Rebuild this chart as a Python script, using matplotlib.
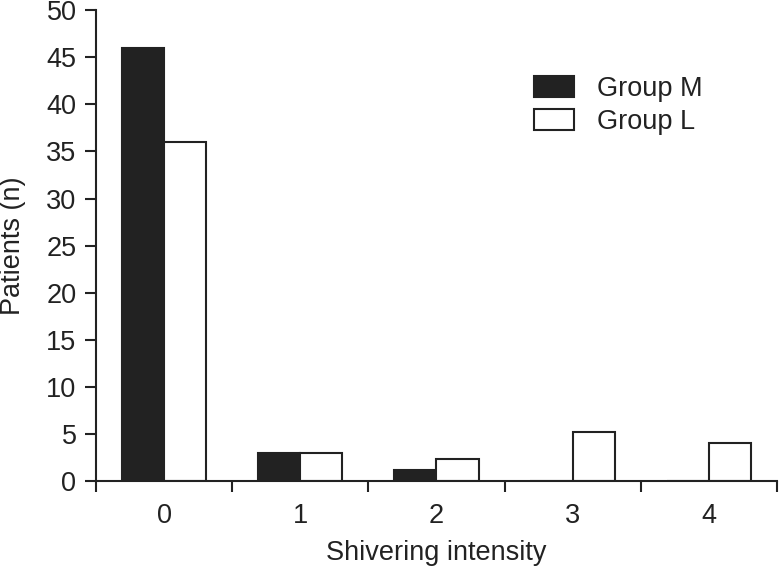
import numpy as np
import matplotlib
matplotlib.use('Agg')
import matplotlib.pyplot as plt
from matplotlib.patches import Patch

categories = ['0', '1', '2', '3', '4']
group_m = [46, 3, 1.2, 0, 0]
group_l = [36, 3, 2.3, 5.2, 4]

plt.rcParams['font.family'] = ['Liberation Sans', 'DejaVu Sans']
dark = '#222222'
fs = 19.5

fig = plt.figure(figsize=(7.8, 5.68), dpi=100)
ax = fig.add_axes([0.123, 0.153, 0.873, 0.829])

x = np.arange(len(categories))
w = 0.31
ax.bar(x - w / 2, group_m, w, color=dark, edgecolor=dark, linewidth=1.5)
ax.bar(x + w / 2, group_l, w, color='white', edgecolor=dark, linewidth=1.5)

ax.set_xlim(-0.5, 4.5)
ax.set_ylim(0, 50)
ax.set_yticks(np.arange(0, 51, 5))
ax.set_xticks(x)
ax.set_xticklabels(categories)
ax.set_xticks(np.arange(-0.5, 4.6, 1), minor=True)
ax.tick_params(axis='x', which='major', length=0, pad=16, labelsize=fs, colors=dark)
ax.tick_params(axis='x', which='minor', length=8, width=1.5, color=dark)
ax.tick_params(axis='y', length=8, width=1.5, pad=6, labelsize=fs, colors=dark)

for s in ['top', 'right']:
    ax.spines[s].set_visible(False)
for s in ['left', 'bottom']:
    ax.spines[s].set_linewidth(1.5)
    ax.spines[s].set_color(dark)

ax.set_xlabel('Shivering intensity', fontsize=fs, color=dark, labelpad=8)
ax.set_ylabel('Patients (n)', fontsize=fs, color=dark)
ax.yaxis.set_label_coords(-0.102, 0.5)

handles = [Patch(facecolor=dark, edgecolor=dark, linewidth=1.5, label='Group M'),
           Patch(facecolor='white', edgecolor=dark, linewidth=1.5, label='Group L')]
ax.legend(handles=handles, loc='upper left', bbox_to_anchor=(534 / 780, 1 - 76 / 568),
          bbox_transform=fig.transFigure, frameon=False, borderpad=0, borderaxespad=0,
          fontsize=fs, handlelength=1.48, handleheight=0.81, handletextpad=0.85,
          labelspacing=0.25, labelcolor=dark)

plt.savefig('out.png', dpi=100)
